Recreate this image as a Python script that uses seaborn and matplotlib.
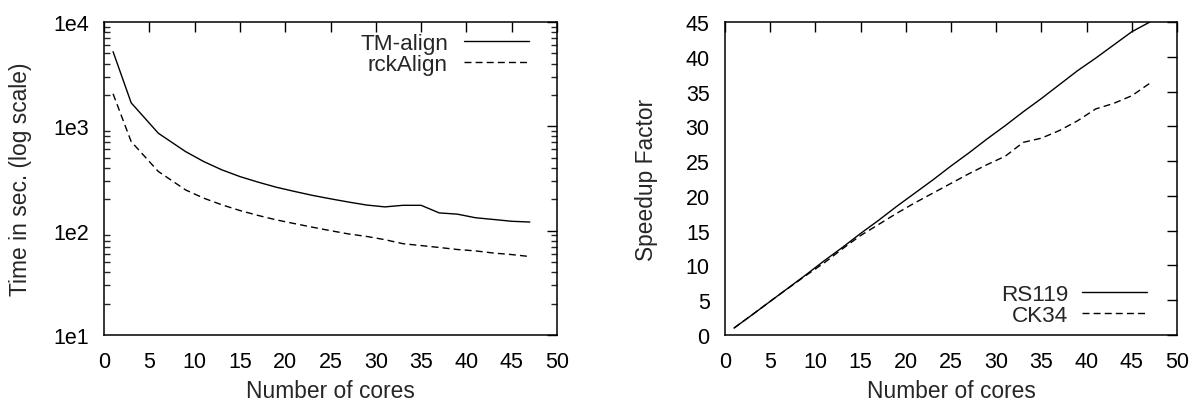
import numpy as np
import pandas as pd
import matplotlib
matplotlib.use("Agg")
import matplotlib.pyplot as plt
import matplotlib.ticker as mticker
import seaborn as sns

cores = [1, 3, 6, 9, 11, 13, 15, 17, 19, 21, 23, 25, 27, 29, 31, 33, 35, 37, 39, 41, 43, 45, 47]
tm_align = [5200, 1680, 858, 573, 460, 383, 330, 292, 261, 238, 218, 202, 188, 176, 169, 175, 175,
            148, 144, 133, 128, 123, 121]
rck_align = [2050, 714, 369, 246, 205, 177, 156, 140, 127, 117, 108, 100, 93, 88, 82, 75, 72,
             69, 66, 64, 61, 59, 56.5]
rs119 = [1.0, 2.9, 5.8, 8.7, 10.7, 12.6, 14.6, 16.5, 18.5, 20.4, 22.3, 24.3, 26.2, 28.2, 30.1,
         32.1, 34.0, 36.0, 38.0, 39.8, 41.7, 43.6, 45.0]
ck34 = [1.0, 2.9, 5.8, 8.6, 10.4, 12.4, 14.3, 15.9, 17.5, 19.0, 20.4, 21.8, 23.2, 24.5, 25.7,
        27.7, 28.3, 29.4, 30.8, 32.5, 33.3, 34.4, 36.2]

left_labels = ["TM-align", "rckAlign"]
right_labels = ["RS119", "CK34"]
log_tick_labels = ["1e1", "1e2", "1e3", "1e4"]

sns.set_style("white")
plt.rcParams["font.family"] = ["Liberation Sans", "DejaVu Sans"]
plt.rcParams["font.size"] = 15

TICK_FS = 15.5
XLAB_FS = 16.4
YLAB_FS = 16.4
LEG_FS = 16.2

fig = plt.figure(figsize=(11.94, 4.06), dpi=100)
W, H = 1194, 406
ax1 = fig.add_axes([104 / W, 1 - 336 / H, (557 - 104) / W, (336 - 23) / H])
ax2 = fig.add_axes([725 / W, 1 - 336 / H, (1177 - 725) / W, (336 - 23) / H])

df_left = pd.DataFrame({"cores": cores, "tm": tm_align, "rck": rck_align})
df_right = pd.DataFrame({"cores": cores, "rs": rs119, "ck": ck34})

dash = (0, (5, 3))
sns.lineplot(data=df_left, x="cores", y="tm", ax=ax1, color="black", lw=1.0, label=left_labels[0])
sns.lineplot(data=df_left, x="cores", y="rck", ax=ax1, color="black", lw=1.0, linestyle=dash,
             label=left_labels[1])
sns.lineplot(data=df_right, x="cores", y="rs", ax=ax2, color="black", lw=1.0, label=right_labels[0])
sns.lineplot(data=df_right, x="cores", y="ck", ax=ax2, color="black", lw=1.0, linestyle=dash,
             label=right_labels[1])

ax1.set_yscale("log")
ax1.set_ylim(10, 1e4)
ax1.set_yticks([10, 100, 1000, 10000])
ax1.yaxis.set_major_formatter(mticker.FixedFormatter(log_tick_labels))
ax1.yaxis.set_minor_locator(mticker.LogLocator(base=10, subs=np.arange(2, 10)))
ax1.yaxis.set_minor_formatter(mticker.NullFormatter())

ax2.set_ylim(0, 45)
ax2.set_yticks(np.arange(0, 46, 5))

for ax in (ax1, ax2):
    ax.set_xlim(0, 50)
    ax.set_xticks(np.arange(0, 51, 5))
    ax.set_xlabel("Number of cores", labelpad=5, fontsize=XLAB_FS)
    for s in ax.spines.values():
        s.set_linewidth(1.1)
        s.set_color("black")
    ax.tick_params(which="major", direction="in", length=7.5, width=1.0, top=True, right=True,
                   labelsize=TICK_FS, colors="black")
    ax.tick_params(which="minor", direction="in", length=4, width=1.0, right=True, left=True)
    ax.tick_params(axis="x", pad=11.5)
    ax.tick_params(axis="y", pad=11)

ax1.set_ylabel("Time in sec. (log scale)", fontsize=YLAB_FS)
ax2.set_ylabel("Speedup Factor", fontsize=YLAB_FS)
ax1.yaxis.set_label_coords(-0.160, 0.5)
ax2.yaxis.set_label_coords(-0.148, 0.5)

ax1.legend(loc="upper right", bbox_to_anchor=(0.938, 0.966), frameon=False, markerfirst=False,
           handlelength=2.9, handletextpad=0.7, borderpad=0, borderaxespad=0, labelspacing=0.0,
           fontsize=LEG_FS)
ax2.legend(loc="lower right", bbox_to_anchor=(0.934, 0.030), frameon=False, markerfirst=False,
           handlelength=2.9, handletextpad=0.6, borderpad=0, borderaxespad=0, labelspacing=0.0,
           fontsize=LEG_FS)

fig.savefig("out.png", dpi=100)
